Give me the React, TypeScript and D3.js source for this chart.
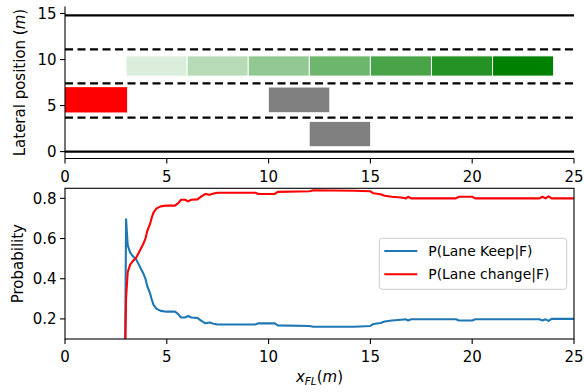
import React from 'react';
import * as d3 from 'd3';

// lane geometry (lateral position, m)
const laneSolid = [0, 14.8];
const laneDashed = [3.7, 7.4, 11.1];

// predicted positions of the lane-changing car, one box per step
const predictedStartX = [3, 6, 9, 12, 15, 18, 21];
const predictedWidth = 3;
const predictedLat = [8.2, 10.4];

// [x0, x1, y0, y1]
const egoBox = [0, 3.05, 4.25, 7.0];
const otherBoxes = [
  [10, 13, 4.25, 7.0],
  [12, 15, 0.55, 3.25],
];

// probabilities vs x_FL
const xFL = [
  2.95, 3.0, 3.08, 3.2, 3.35, 3.5, 3.68, 3.83, 3.95, 4.05, 4.17, 4.25, 4.35, 4.5, 4.7, 5.0, 5.4, 5.55,
  5.7, 5.9, 6.05, 6.2, 6.5, 6.7, 6.9, 7.1, 7.3, 7.5, 9.35, 9.5, 10.3, 10.45, 12.0, 12.2, 14.2, 15.0,
  15.15, 15.5, 15.7, 16.05, 16.5, 16.75, 16.85, 17.0, 19.2, 19.35, 20.0, 20.15, 23.3, 23.45, 23.6,
  23.75, 23.9, 25.0,
];
const pKeep = [
  0.0, 0.696, 0.567, 0.53, 0.51, 0.495, 0.46, 0.43, 0.4, 0.36, 0.33, 0.3, 0.27, 0.25, 0.24, 0.236,
  0.236, 0.225, 0.207, 0.207, 0.215, 0.207, 0.205, 0.19, 0.178, 0.182, 0.176, 0.172, 0.172, 0.178,
  0.178, 0.168, 0.165, 0.161, 0.161, 0.165, 0.175, 0.18, 0.187, 0.192, 0.196, 0.198, 0.192, 0.198,
  0.198, 0.192, 0.192, 0.198, 0.198, 0.192, 0.198, 0.19, 0.2, 0.2,
];
const pChange = [
  0.0, 0.304, 0.433, 0.47, 0.49, 0.505, 0.54, 0.57, 0.6, 0.64, 0.67, 0.7, 0.73, 0.75, 0.76, 0.764,
  0.764, 0.775, 0.793, 0.793, 0.785, 0.793, 0.795, 0.81, 0.822, 0.818, 0.824, 0.828, 0.828, 0.822,
  0.822, 0.832, 0.835, 0.84, 0.838, 0.835, 0.825, 0.82, 0.813, 0.808, 0.804, 0.8, 0.808, 0.8, 0.8,
  0.808, 0.808, 0.8, 0.8, 0.808, 0.8, 0.81, 0.8, 0.8,
];

const xTicks = [0, 5, 10, 15, 20, 25];
const latTicks = [0, 5, 10, 15];
const probTicks = [0.2, 0.4, 0.6, 0.8];
const legendLabels = ['P(Lane Keep|F)', 'P(Lane change|F)'];
const seriesColors = ['#1f77b4', '#ff0000'];

const FONT = 'DejaVu Sans';
const TICK = 15;

const App: React.FC = () => {
  const x = d3.scaleLinear().domain([0, 25]).range([65, 574]);
  const yTop = d3.scaleLinear().domain([-0.75, 15.75]).range([158.5, 6.6]);
  const yBot = d3.scaleLinear().domain([0.1, 0.85]).range([339, 188.3]);

  const green = d3.color('#008000')!;
  const n = predictedStartX.length;

  const line = d3
    .line<[number, number]>()
    .x((d) => x(d[0]))
    .y((d) => yBot(d[1]));
  const series = [pKeep, pChange].map((vals) => xFL.map((xv, i) => [xv, vals[i]] as [number, number]));

  const [bx0, bx1] = x.range();
  const [tyB, tyT] = yTop.range();
  const [byB, byT] = yBot.range();

  return (
    <svg
      width={584}
      height={392}
      style={{ position: 'absolute', left: 0, top: 0, background: '#fff' }}
      fontFamily={FONT}
    >
      <defs>
        <clipPath id="clipBot">
          <rect x={bx0} y={byT} width={bx1 - bx0} height={byB - byT} />
        </clipPath>
      </defs>

      {/* ---------- top panel: road scene ---------- */}
      <rect
        x={x(egoBox[0])}
        y={yTop(egoBox[3])}
        width={x(egoBox[1]) - x(egoBox[0])}
        height={yTop(egoBox[2]) - yTop(egoBox[3])}
        fill="#ff0000"
      />
      {otherBoxes.map((b, i) => (
        <rect
          key={i}
          x={x(b[0])}
          y={yTop(b[3])}
          width={x(b[1]) - x(b[0])}
          height={yTop(b[2]) - yTop(b[3])}
          fill="#808080"
          stroke="#fff"
          strokeWidth={0.6}
        />
      ))}
      {predictedStartX.map((sx, i) => {
        const c = d3.color(green.toString())!;
        c.opacity = (i + 1) / n;
        return (
          <rect
            key={i}
            x={x(sx)}
            y={yTop(predictedLat[1])}
            width={x(sx + predictedWidth) - x(sx)}
            height={yTop(predictedLat[0]) - yTop(predictedLat[1])}
            fill={c.toString()}
            stroke="#fff"
            strokeWidth={1}
          />
        );
      })}
      {laneSolid.map((l) => (
        <line key={l} x1={x(0)} x2={x(25)} y1={yTop(l)} y2={yTop(l)} stroke="#000" strokeWidth={2.2} />
      ))}
      {laneDashed.map((l) => (
        <line
          key={l}
          x1={x(0)}
          x2={x(25)}
          y1={yTop(l)}
          y2={yTop(l)}
          stroke="#000"
          strokeWidth={2.2}
          strokeDasharray="8,4.5"
        />
      ))}
      {/* spines */}
      <line x1={bx0} x2={bx0} y1={tyT} y2={tyB} stroke="#000" strokeWidth={1.1} />
      <line x1={bx0} x2={bx1} y1={tyB} y2={tyB} stroke="#000" strokeWidth={1.1} />
      {latTicks.map((t) => (
        <g key={t}>
          <line x1={bx0 - 5} x2={bx0} y1={yTop(t)} y2={yTop(t)} stroke="#000" strokeWidth={1.1} />
          <text x={bx0 - 8.5} y={yTop(t) + 5.5} textAnchor="end" fontSize={TICK}>
            {t}
          </text>
        </g>
      ))}
      {xTicks.map((t) => (
        <g key={t}>
          <line x1={x(t)} x2={x(t)} y1={tyB} y2={tyB + 5} stroke="#000" strokeWidth={1.1} />
          <text x={x(t)} y={tyB + 23.5} textAnchor="middle" fontSize={TICK}>
            {t}
          </text>
        </g>
      ))}
      <text
        transform={`translate(20,${(tyT + tyB) / 2}) rotate(-90)`}
        textAnchor="middle"
        dominantBaseline="central"
        fontSize={TICK}
      >
        Lateral position (<tspan fontStyle="italic">m</tspan>)
      </text>

      {/* ---------- bottom panel: probabilities ---------- */}
      <g clipPath="url(#clipBot)">
        {series.map((s, i) => (
          <path key={i} d={line(s) ?? ''} fill="none" stroke={seriesColors[i]} strokeWidth={2.1} strokeLinejoin="round" />
        ))}
      </g>
      <rect x={bx0} y={byT} width={bx1 - bx0} height={byB - byT} fill="none" stroke="#000" strokeWidth={1.1} />
      {probTicks.map((t) => (
        <g key={t}>
          <line x1={bx0 - 5} x2={bx0} y1={yBot(t)} y2={yBot(t)} stroke="#000" strokeWidth={1.1} />
          <text x={bx0 - 8.5} y={yBot(t) + 5.5} textAnchor="end" fontSize={TICK}>
            {t.toFixed(1)}
          </text>
        </g>
      ))}
      {xTicks.map((t) => (
        <g key={t}>
          <line x1={x(t)} x2={x(t)} y1={byB} y2={byB + 5} stroke="#000" strokeWidth={1.1} />
          <text x={x(t)} y={byB + 23} textAnchor="middle" fontSize={TICK}>
            {t}
          </text>
        </g>
      ))}
      <text
        transform={`translate(18,${(byT + byB) / 2}) rotate(-90)`}
        textAnchor="middle"
        dominantBaseline="central"
        fontSize={TICK}
      >
        Probability
      </text>
      <text x={(bx0 + bx1) / 2} y={382} textAnchor="middle" fontSize={TICK}>
        <tspan fontStyle="italic">x</tspan>
        <tspan fontStyle="italic" fontSize={10.5} dy={3}>
          FL
        </tspan>
        <tspan dy={-3}>(</tspan>
        <tspan fontStyle="italic">m</tspan>
        <tspan>)</tspan>
      </text>

      {/* legend */}
      <rect x={379.3} y={238.3} width={187.4} height={51} rx={3} fill="#fff" fillOpacity={0.8} stroke="#cccccc" strokeWidth={1} />
      {legendLabels.map((lab, i) => {
        const ly = 251 + i * 23.3;
        return (
          <g key={lab}>
            <line x1={384.3} x2={417.3} y1={ly} y2={ly} stroke={seriesColors[i]} strokeWidth={2.1} />
            <text x={428.3} y={ly} dominantBaseline="central" fontSize={13.9}>
              {lab}
            </text>
          </g>
        );
      })}
    </svg>
  );
};

export default App;
